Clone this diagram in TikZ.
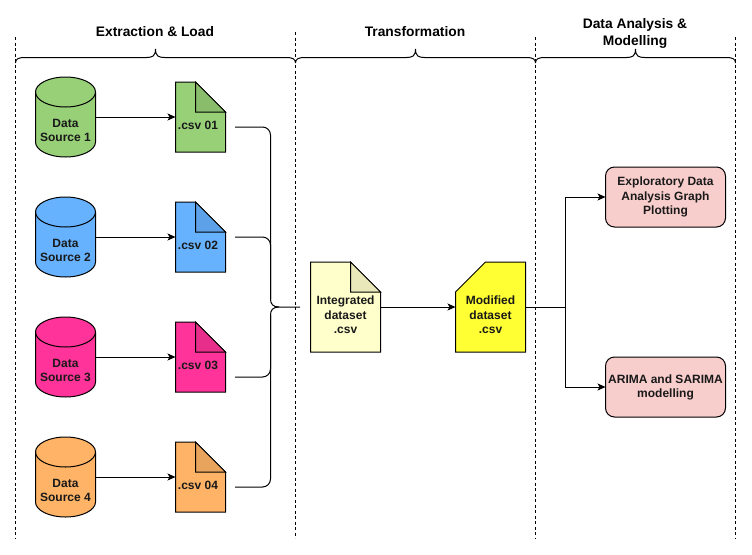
\documentclass[tikz,border=0pt]{standalone}
\usepackage{fontspec}
\setmainfont{Liberation Sans}
\usetikzlibrary{positioning,calc,arrows.meta}
\definecolor{srcgreen}{HTML}{97D077}
\definecolor{srcblue}{HTML}{66B2FF}
\definecolor{srcpink}{HTML}{FF3399}
\definecolor{srcorange}{HTML}{FFB366}
\definecolor{intyellow}{HTML}{FFFFCC}
\definecolor{modyellow}{HTML}{FFFF33}
\definecolor{boxpink}{HTML}{F8CECC}

\begin{document}
\begin{tikzpicture}[
  x=1pt, y=-1pt,
  line width=1pt,
  title/.style={font=\fontsize{13.8}{17}\selectfont\bfseries, align=center},
  txt/.style={font=\fontsize{12}{14.7}\selectfont\bfseries, align=center, text=black!90},
  source/.style={minimum width=60, minimum height=80, outer sep=0, inner sep=0},
  docbox/.style={minimum width=50, minimum height=70, outer sep=0, inner sep=0},
  bigdoc/.style={minimum width=70, minimum height=90, outer sep=0, inner sep=0},
  result/.style={draw, rounded corners=9, fill=boxpink, minimum width=120, minimum height=60, outer sep=0, inner sep=0},
  conn/.style={-{Stealth[length=8pt,width=7pt,inset=2pt]}},
  lane/.style={dashed, dash pattern=on 3pt off 2.5pt},
]
\useasboundingbox (0,0) rectangle (752,554);

% Lanes
\foreach \x/\ytop in {15.5/37,295.5/32,535.5/37,735.5/37} {
  \draw[lane] (\x,\ytop) -- (\x,538);
}

% Braces on top
\foreach \xa/\xm/\xb in {15.5/155.5/295.5,295.5/415.5/535.5,535.5/635.5/735.5} {
  \draw (\xa,63) .. controls (\xa,59) and (\xa+3,57.5) .. (\xa+9,57.5)
    -- (\xm-9,57.5) .. controls (\xm-3,57.5) and (\xm,56) .. (\xm,49)
    .. controls (\xm,56) and (\xm+3,57.5) .. (\xm+9,57.5)
    -- (\xb-9,57.5) .. controls (\xb-3,57.5) and (\xb,59) .. (\xb,63);
}

% Titles
\node[title] (titleload) at (155,32) {Extraction \& Load};
\node[title] (titletrans) at (415,32) {Transformation};
\node[title] (titlemodel) at (635,33.5) {Data Analysis \&\\Modelling};

% Sources and csv files
\foreach \n/\y/\c in {1/117/srcgreen,2/237/srcblue,3/357/srcpink,4/477/srcorange} {
  \node[source] (src\n) at (65.5,\y) {};
  \draw[fill=\c] (35.5,\y-25) arc[start angle=180, end angle=0, x radius=30pt, y radius=15pt]
    -- (95.5,\y+25) arc[start angle=0, end angle=-180, x radius=30pt, y radius=15pt] -- cycle;
  \draw (35.5,\y-25) arc[start angle=180, end angle=360, x radius=30pt, y radius=15pt];
  \node[txt] (srctext\n) at (65.5,\y+13.5) {Data\\Source \n};
  \node[docbox] (csv\n) at (200.5,\y) {};
  \draw[fill=\c] (csv\n.north west) -- ++(20,0) -- ++(30,30) |- (csv\n.south west) -- cycle;
  \draw[fill=\c!91!black] (csv\n.north west) ++(20,0) -- ++(30,30) -- ++(-30,0) -- cycle;
  \node[txt] (csvtext\n) at (198,\y+8) {.csv 0\n};
  \draw[conn] (src\n.east |- csv\n.west) -- (csv\n.west);
}

% Integrated and modified
\node[bigdoc] (integrated) at (345.5,307) {};
\draw[fill=intyellow] (integrated.north west) -- ++(40,0) -- ++(30,30) |- (integrated.south west) -- cycle;
\draw[fill=intyellow!91!black] (integrated.north west) ++(40,0) -- ++(30,30) -- ++(-30,0) -- cycle;
\node[txt] (integratedtext) at (345.5,315) {Integrated\\dataset\\.csv};
\node[bigdoc] (modified) at (490.5,307) {};
\draw[fill=modyellow] (modified.north east) -- (modified.south east) -| (modified.west |- 0,292) -- ++(30,-30) -- cycle;
\node[txt] (modifiedtext) at (490.5,315) {Modified\\dataset\\.csv};

% Results
\node[result] (eda) at (665.5,197) {};
\node[txt] (edatext) at (665.5,197) {Exploratory Data\\Analysis Graph\\Plotting};
\node[result] (arima) at (665.5,387) {};
\node[txt] (arimatext) at (665.5,387.5) {ARIMA and SARIMA\\modelling};

% Merge brace
\coordinate (merge) at (270.5,307);
\coordinate (mergetip) at (300,307);
\coordinate (split) at (565.5,307);
\foreach \n/\y in {1/127,2/237} {
  \draw[rounded corners=8] (235,\y) -- (merge |- 0,\y) -- (270.5,299);
}
\foreach \n/\y in {3/377,4/487} {
  \draw[rounded corners=8] (235,\y) -- (merge |- 0,\y) -- (270.5,315);
}
\draw (270.5,299) .. controls (270.5,304) and (273,307) .. (279,307) -- (mergetip);
\draw (270.5,315) .. controls (270.5,310) and (273,307) .. (279,307);

% Connectors
\draw[conn] (integrated.east) -- (modified.west);
\draw (modified.east) -- (split);
\draw[conn] (split) |- (eda.west);
\draw[conn] (split) |- (arima.west);

\end{tikzpicture}
\end{document}
